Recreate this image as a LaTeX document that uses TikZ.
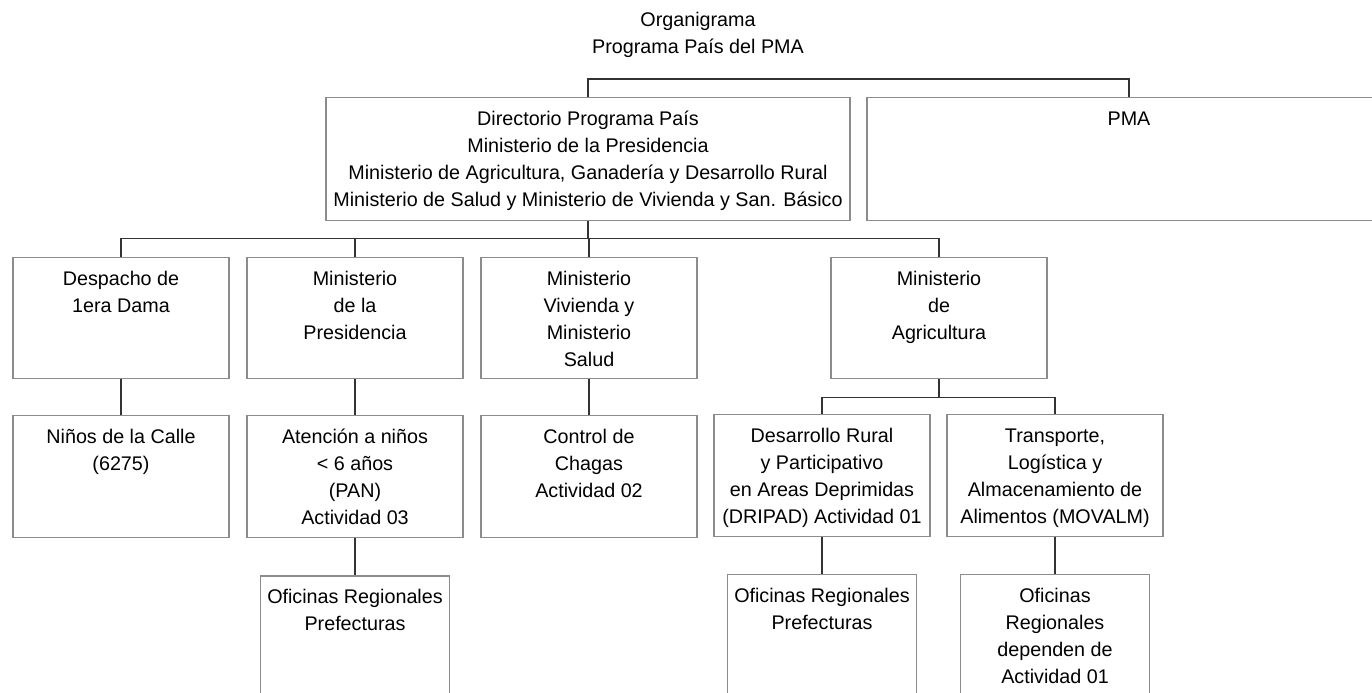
\documentclass[tikz,border=0pt]{standalone}
\usepackage{fontspec}
\setmainfont{Liberation Sans}
\usepackage{tikz}
\usetikzlibrary{positioning}

\newlength{\upx}
\setlength{\upx}{0.75pt}
\newcommand{\textocaja}[3]{\parbox[t][#2\upx][t]{#1\upx}{\centering\strut#3}}

\tikzset{
    caja/.style={draw=black!45, line width=0.9pt, anchor=north, inner xsep=0pt, inner ysep=6.75pt},
    linea/.style={draw=black!80, line width=0.8pt}
}

\begin{document}
\begin{tikzpicture}[x=0.75pt, y=-0.75pt, font=\fontsize{14.8pt}{20.25pt}\selectfont]
            \clip (0,0) rectangle (1372,693);
            \node(titulo) [anchor=north, align=center, inner sep=0pt] at (698,7) {\strut Organigrama\\Programa País del PMA};

            \node(dir) [caja] at (588,97) {\textocaja{524}{105}{Directorio Programa País\\Ministerio de la Presidencia\\Ministerio de Agricultura, Ganadería y Desarrollo Rural\\Ministerio de Salud y Ministerio de Vivienda y San. Básico}};
            \node(pma) [caja] at (1129,97) {\textocaja{524}{105}{PMA}};

            \node(desp) [caja] at (121,257) {\textocaja{216}{103}{Despacho de\\1era Dama}};
            \node(pres) [caja] at (355,257) {\textocaja{216}{103}{Ministerio\\de la\\Presidencia}};
            \node(viv) [caja] at (589,257) {\textocaja{216}{103}{Ministerio\\Vivienda y\\Ministerio\\Salud}};
            \node(agr) [caja] at (939,257) {\textocaja{216}{103}{Ministerio\\de\\Agricultura}};

            \node(ninos) [caja, below=27pt of desp] {\textocaja{216}{104}{Niños de la Calle\\(6275)}};
            \node(aten) [caja, below=27pt of pres] {\textocaja{216}{104}{Atención a niños\\< 6 años\\(PAN)\\Actividad 03}};
            \node(chag) [caja, below=27pt of viv] {\textocaja{216}{104}{Control de\\Chagas\\Actividad 02}};
            \node(drip) [caja] at (822,414) {\textocaja{216}{104}{Desarrollo Rural\\y Participativo\\en Areas Deprimidas\\(DRIPAD) Actividad 01}};
            \node(trans) [caja] at (1055,414) {\textocaja{216}{104}{Transporte,\\Logística y\\Almacenamiento de\\Alimentos (MOVALM)}};

            \node(ofi1) [caja, below=27.75pt of aten] {\textocaja{189}{122}{Oficinas Regionales\\Prefecturas}};
            \node(ofi2) [caja, below=27.75pt of drip] {\textocaja{189}{122}{Oficinas Regionales\\Prefecturas}};
            \node(ofi3) [caja, below=27.75pt of trans] {\textocaja{189}{122}{Oficinas\\Regionales\\dependen de\\Actividad 01}};

            \draw[linea] (dir.north) -- ++(0,-18) -| (pma.north);
            \foreach \hijo in {desp,pres,viv,agr}
                \draw[linea] (dir.south) -- ++(0,17) -| (\hijo.north);
            \foreach \hijo in {drip,trans}
                \draw[linea] (agr.south) -- ++(0,18) -| (\hijo.north);
            \foreach \arriba/\abajo in {desp/ninos,pres/aten,viv/chag,aten/ofi1,drip/ofi2,trans/ofi3}
                \draw[linea] (\arriba.south) -- (\abajo.north);
        \end{tikzpicture}
\end{document}
